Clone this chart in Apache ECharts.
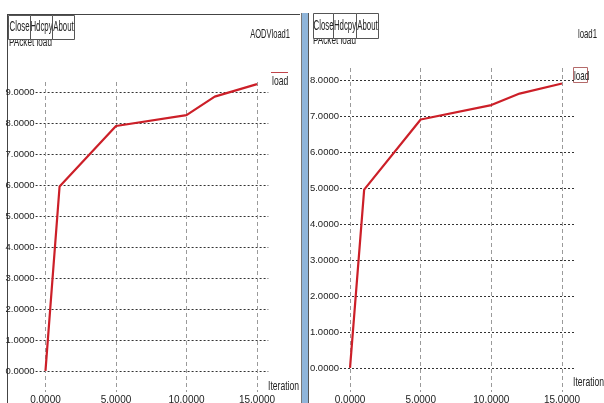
<!DOCTYPE html>
<html>
<head>
<meta charset="utf-8">
<style>
  html, body { margin: 0; padding: 0; background: #fff; }
  #chart { width: 604px; height: 403px; }
</style>
<script src="https://cdn.jsdelivr.net/npm/echarts@6/dist/echarts.min.js"></script>
</head>
<body>
<div id="chart"></div>
<script>
// Packet load per iteration for two runs
const iterations = [0, 1, 5, 10, 12, 15];
const loadAodv = [0, 5.95, 7.9, 8.25, 8.85, 9.25];
const loadRun1 = [0, 4.95, 6.9, 7.3, 7.62, 7.9];

const xTicks = [0, 5, 10, 15];
const xGridTicks = [5, 10, 15];
const yTicksLeft = [0, 1, 2, 3, 4, 5, 6, 7, 8, 9];
const yTicksRight = [0, 1, 2, 3, 4, 5, 6, 7, 8];
const yGridLeft = [1, 2, 3, 4, 5, 6, 7, 8, 9];
const yGridRight = [1, 2, 3, 4, 5, 6, 7, 8];

const panelTitles = ['AODVload1', 'load1'];
const seriesName = 'load';
const yTitle = 'PAcket load';
const xTitle = 'Iteration';
const buttons = ['Close', 'Hdcpy', 'About'];

const FONT = '"Liberation Sans", sans-serif';
const TXT = '#222';
const fmt = v => Number(v).toFixed(4);

// narrow text helper: a group squeezed horizontally
function narrowText(text, x, y, size, align, sx) {
  return {
    type: 'group', x, y, scaleX: sx || 0.65,
    children: [{ type: 'text', style: { x: 0, y: 0, text, fill: TXT, font: size + 'px ' + FONT, align: align || 'left', verticalAlign: 'middle' } }]
  };
}

function xAxisFor(gridIndex, min, max) {
  return {
    type: 'value', gridIndex, min, max,
    axisLine: { show: false },
    axisTick: { show: false, customValues: xTicks },
    axisLabel: { customValues: xTicks, formatter: fmt, fontFamily: FONT, fontSize: 10, color: TXT, margin: 3 },
    splitLine: { show: true, customValues: xGridTicks, lineStyle: { color: '#9a9a9a', type: [4, 3], width: 1 } }
  };
}
function yAxisFor(gridIndex, min, max, ticks, grid) {
  return {
    type: 'value', gridIndex, min, max,
    axisLine: { show: false },
    axisTick: { show: false, customValues: ticks },
    axisLabel: { customValues: ticks, formatter: fmt, fontFamily: FONT, fontSize: 9.5, color: TXT, margin: 1 },
    splitLine: { show: true, customValues: grid, lineStyle: { color: '#333', type: [2, 2], width: 1 } }
  };
}
function lineSeries(idx, values) {
  return {
    type: 'line', name: seriesName, xAxisIndex: idx, yAxisIndex: idx,
    data: iterations.map((x, i) => [x, values[i]]),
    symbol: 'none', smooth: false,
    lineStyle: { color: '#cc1f28', width: 2.2 }
  };
}

function button(label, x, y, w, h) {
  return {
    type: 'group', x, y,
    children: [
      { type: 'rect', shape: { x: 0, y: 0, width: w, height: h }, style: { fill: '#fff', stroke: '#555', lineWidth: 1 } },
      narrowText(label, w / 2, h / 2, 14, 'center', 0.56)
    ]
  };
}

const chart = echarts.init(document.getElementById('chart'), null, { renderer: 'canvas' });
chart.setOption({
  animation: false,
  backgroundColor: '#fff',
  grid: [
    { left: 35.6, width: 232.7, top: 82, height: 310, outerBoundsMode: 'none', containLabel: false },
    { left: 340, width: 235, top: 68, height: 324, outerBoundsMode: 'none', containLabel: false }
  ],
  xAxis: [xAxisFor(0, -0.7, 15.8), xAxisFor(1, -0.71, 15.92)],
  yAxis: [yAxisFor(0, -0.68, 9.32, yTicksLeft, yGridLeft), yAxisFor(1, -0.67, 8.33, yTicksRight, yGridRight)],
  series: [lineSeries(0, loadAodv), lineSeries(1, loadRun1)],
  graphic: [
    // left window frame
    { type: 'line', shape: { x1: 7.5, y1: 14, x2: 7.5, y2: 403 }, style: { stroke: '#444', lineWidth: 1 } },
    { type: 'line', shape: { x1: 7, y1: 14.5, x2: 300, y2: 14.5 }, style: { stroke: '#444', lineWidth: 1 } },
    // splitter between windows
    { type: 'rect', shape: { x: 301, y: 13, width: 8, height: 390 }, style: { fill: '#8fb5da', stroke: null } },
    { type: 'line', shape: { x1: 301.5, y1: 13, x2: 301.5, y2: 403 }, style: { stroke: '#777', lineWidth: 1 } },
    { type: 'line', shape: { x1: 308.5, y1: 13, x2: 308.5, y2: 403 }, style: { stroke: '#555', lineWidth: 1 } },

    // y titles (partly covered by the buttons)
    narrowText(yTitle, 9, 43, 12, 'left', 0.68),
    narrowText(yTitle, 313, 41, 12, 'left', 0.68),

    // window buttons
    button(buttons[0], 8.5, 15.5, 22, 24),
    button(buttons[1], 30.5, 15.5, 22, 24),
    button(buttons[2], 52.5, 15.5, 22, 24),
    button(buttons[0], 313.5, 13.5, 20, 25),
    button(buttons[1], 333.5, 13.5, 23, 25),
    button(buttons[2], 356.5, 13.5, 22, 25),

    // panel titles
    narrowText(panelTitles[0], 290, 34, 13, 'right', 0.58),
    narrowText(panelTitles[1], 597, 34, 13, 'right', 0.6),

    // axis titles
    narrowText(xTitle, 268, 386, 13, 'left', 0.66),
    narrowText(xTitle, 573, 382, 13, 'left', 0.66),

    // series keys
    { type: 'line', shape: { x1: 271, y1: 72.5, x2: 288, y2: 72.5 }, style: { stroke: '#c0444a', lineWidth: 1 } },
    narrowText(seriesName, 272, 81, 13, 'left', 0.66),
    { type: 'rect', shape: { x: 573.5, y: 67.5, width: 14, height: 15 }, style: { fill: null, stroke: '#b46a6a', lineWidth: 1 } },
    narrowText(seriesName, 574, 76, 13, 'left', 0.62)
  ]
});
</script>
</body>
</html>
